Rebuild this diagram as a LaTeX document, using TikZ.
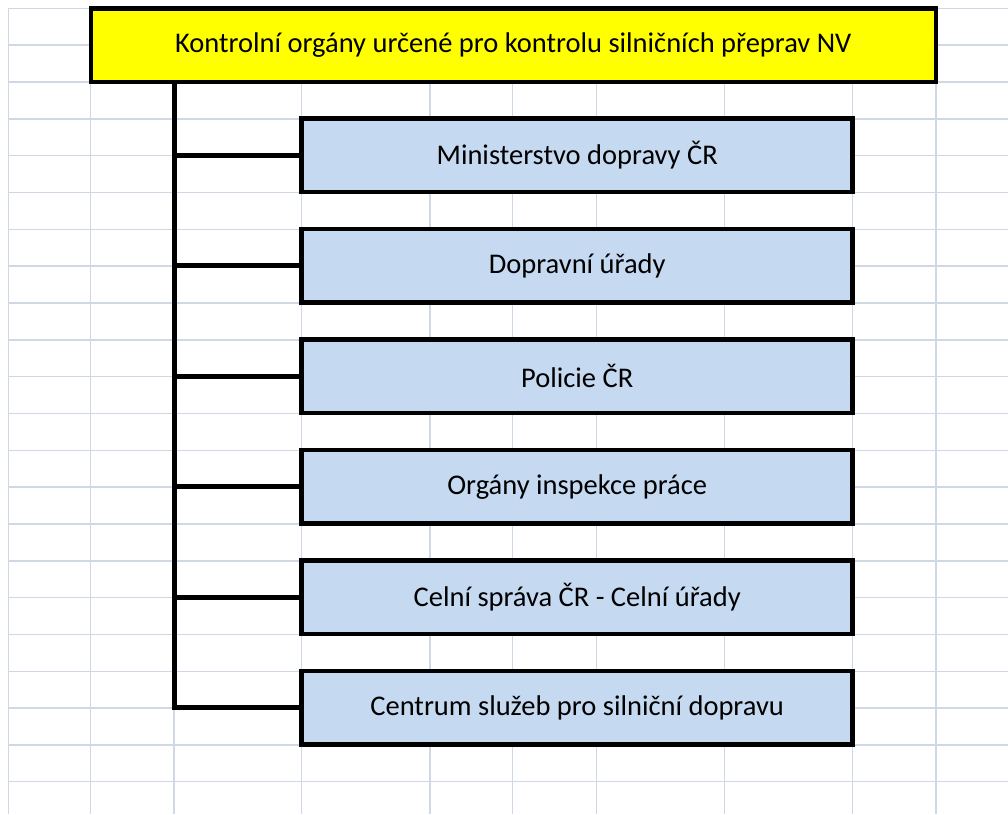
\documentclass[tikz,border=0pt]{standalone}
\usepackage{fontspec}
\setmainfont{Carlito}
\definecolor{gridc}{HTML}{D0D7E5}
\definecolor{boxblue}{HTML}{C5D9F1}
\definecolor{titley}{HTML}{FFFF00}
\tikzset{
  gridline/.style={draw=gridc, line width=1.5pt},
  titlebox/.style={draw=black, line width=4.5pt, fill=titley, minimum width=845pt, minimum height=73.6pt, inner sep=0pt, font=\fontsize{28.5}{31}\selectfont},
  orgbox/.style={draw=black, line width=4.5pt, fill=boxblue, minimum width=551pt, minimum height=73.6pt, inner sep=0pt, font=\fontsize{28.5}{31}\selectfont},
  conn/.style={draw=black, line width=4.7pt},
}
\begin{document}
\begin{tikzpicture}[x=1pt,y=-1pt]
\useasboundingbox (0,0) rectangle (1008,814);
\fill[white] (0,0) rectangle (1008,814);
% grid
\foreach \gx in {8.3,90.7,174,301.7,430,512.7,596.7,724.3,852.7,936}
  \draw[gridline] (\gx,8.3) -- (\gx,814);
\foreach \k in {0,...,21}
  \draw[gridline] (8.3,8.3+\k*36.83) -- (1008,8.3+\k*36.83);
% title
\node[titlebox] (title) at (513.3,45.1) {Kontrolní orgány určené pro kontrolu silničních přeprav NV};
% boxes
\node[orgbox] (b1) at (577.2,155.3) {Ministerstvo dopravy ČR};
\node[orgbox] (b2) at (577.2,265.8) {Dopravní úřady};
\node[orgbox] (b3) at (577.2,376.3) {Policie ČR};
\node[orgbox] (b4) at (577.2,486.8) {Orgány inspekce práce};
\node[orgbox] (b5) at (577.2,597.3) {Celní správa ČR - Celní úřady};
\node[orgbox] (b6) at (577.2,707.8) {Centrum služeb pro silniční dopravu};
% connectors
\coordinate (top) at (174.2,82);
\draw[conn] (top) |- (b6.west);
\foreach \b in {b1,b2,b3,b4,b5}
  \draw[conn] (\b.west -| top) -- (\b.west);
\end{tikzpicture}
\end{document}
